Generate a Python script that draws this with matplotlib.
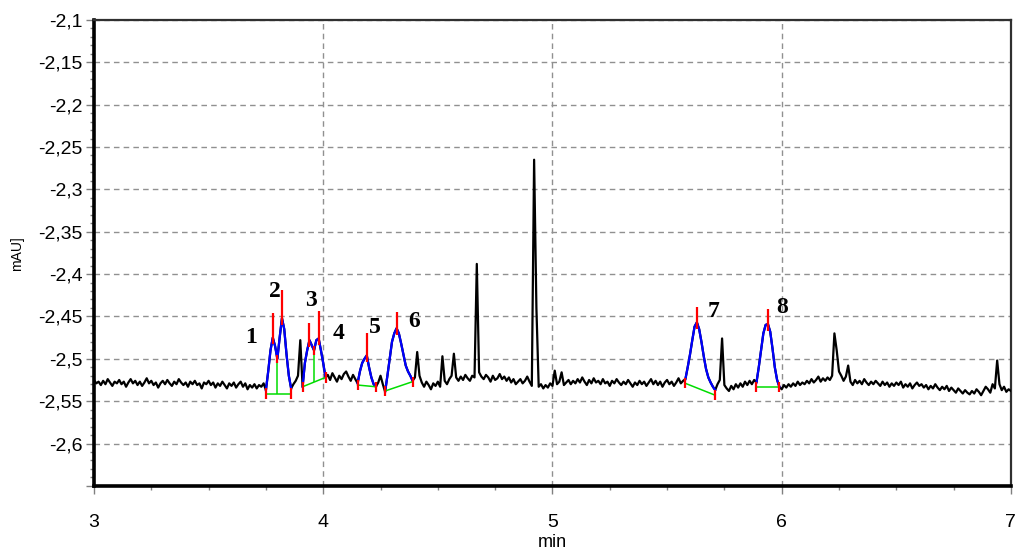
import matplotlib.pyplot as plt
import numpy as np
from matplotlib.ticker import FuncFormatter, MultipleLocator

# detector signal, one reading every 0.01 min from 3.00 to 7.00
t_start, t_step = 3.0, 0.01
signal = [
    -2.525, -2.529, -2.527, -2.531, -2.526, -2.530, -2.524, -2.528, -2.532, -2.527,
    -2.529, -2.525, -2.530, -2.527, -2.533, -2.528, -2.524, -2.529, -2.526, -2.531,
    -2.527, -2.532, -2.528, -2.523, -2.529, -2.526, -2.531, -2.528, -2.534, -2.529,
    -2.526, -2.530, -2.525, -2.529, -2.532, -2.527, -2.530, -2.524, -2.528, -2.531,
    -2.528, -2.533, -2.527, -2.530, -2.526, -2.531, -2.529, -2.535, -2.528, -2.530,
    -2.526, -2.531, -2.528, -2.534, -2.529, -2.532, -2.527, -2.531, -2.535, -2.529,
    -2.532, -2.528, -2.534, -2.530, -2.527, -2.533, -2.529, -2.536, -2.531, -2.534,
    -2.530, -2.535, -2.531, -2.533, -2.529, -2.537, -2.515, -2.490, -2.475, -2.485,
    -2.500, -2.475, -2.452, -2.465, -2.495, -2.520, -2.535, -2.530, -2.526, -2.520,
    -2.478, -2.533, -2.505, -2.490, -2.478, -2.484, -2.490, -2.478, -2.476, -2.490,
    -2.505, -2.522, -2.519, -2.525, -2.517, -2.522, -2.527, -2.520, -2.524, -2.518,
    -2.515, -2.521, -2.526, -2.519, -2.524, -2.529, -2.515, -2.505, -2.500, -2.496,
    -2.510, -2.522, -2.530, -2.533, -2.528, -2.520, -2.530, -2.539, -2.520, -2.500,
    -2.480, -2.470, -2.464, -2.470, -2.482, -2.495, -2.508, -2.515, -2.520, -2.526,
    -2.522, -2.492, -2.520, -2.528, -2.533, -2.527, -2.531, -2.536, -2.529, -2.532,
    -2.527, -2.533, -2.497, -2.526, -2.530, -2.524, -2.520, -2.494, -2.522, -2.526,
    -2.521, -2.525, -2.519, -2.523, -2.526, -2.520, -2.522, -2.388, -2.516, -2.521,
    -2.524, -2.519, -2.522, -2.527, -2.520, -2.525, -2.523, -2.518, -2.524, -2.521,
    -2.526, -2.522, -2.528, -2.524, -2.530, -2.527, -2.524, -2.529, -2.526, -2.521,
    -2.527, -2.532, -2.265, -2.440, -2.533, -2.530, -2.535, -2.531, -2.534, -2.529,
    -2.532, -2.514, -2.530, -2.527, -2.516, -2.531, -2.528, -2.525, -2.530, -2.526,
    -2.529, -2.524, -2.528, -2.522, -2.527, -2.531, -2.525, -2.529, -2.523, -2.528,
    -2.526, -2.530, -2.524, -2.529, -2.527, -2.532, -2.526, -2.529, -2.524, -2.528,
    -2.531, -2.527, -2.530, -2.525, -2.529, -2.533, -2.528, -2.531, -2.526, -2.530,
    -2.527, -2.532, -2.528, -2.524, -2.530, -2.526, -2.531, -2.527, -2.533, -2.528,
    -2.525, -2.530, -2.527, -2.532, -2.528, -2.523, -2.529, -2.526, -2.524, -2.510,
    -2.495, -2.478, -2.462, -2.457, -2.465, -2.480, -2.497, -2.512, -2.522, -2.528,
    -2.533, -2.537, -2.530, -2.525, -2.476, -2.531, -2.535, -2.538, -2.532, -2.536,
    -2.530, -2.534, -2.529, -2.533, -2.527, -2.531, -2.526, -2.530, -2.525, -2.528,
    -2.510, -2.490, -2.470, -2.460, -2.459, -2.468, -2.488, -2.510, -2.525, -2.533,
    -2.536, -2.531, -2.534, -2.530, -2.533, -2.529, -2.532, -2.527, -2.531, -2.528,
    -2.530, -2.526, -2.529, -2.524, -2.528, -2.525, -2.521, -2.527, -2.523, -2.526,
    -2.522, -2.525, -2.520, -2.470, -2.490, -2.515, -2.520, -2.526, -2.521, -2.508,
    -2.527, -2.531, -2.525, -2.529, -2.526, -2.530, -2.524, -2.528, -2.531, -2.527,
    -2.530, -2.526, -2.529, -2.532, -2.527, -2.531, -2.528, -2.533, -2.529, -2.532,
    -2.528, -2.531, -2.527, -2.534, -2.530, -2.533, -2.529, -2.535, -2.531, -2.528,
    -2.532, -2.530, -2.534, -2.531, -2.536, -2.532, -2.535, -2.530, -2.534, -2.537,
    -2.533, -2.536, -2.532, -2.538, -2.534, -2.537, -2.540, -2.535, -2.538, -2.541,
    -2.537, -2.540, -2.542, -2.538, -2.541, -2.536, -2.539, -2.543, -2.538, -2.533,
    -2.536, -2.540, -2.530, -2.535, -2.502, -2.530, -2.537, -2.533, -2.539, -2.536,
    -2.538,
]

# integrated regions (start/end time and baseline level)
seg_t0 = [3.75, 3.91, 4.15, 4.27, 5.58, 5.89]
seg_t1 = [3.86, 4.01, 4.23, 4.39, 5.71, 5.99]
seg_v0 = [-2.541, -2.533, -2.531, -2.538, -2.529, -2.533]
seg_v1 = [-2.541, -2.522, -2.533, -2.527, -2.543, -2.533]

# peak apexes and the top of their red markers
peak_names = ['1', '2', '3', '4', '5', '6', '7', '8']
apex_t = [3.78, 3.82, 3.94, 3.98, 4.19, 4.32, 5.63, 5.94]
apex_v = [-2.475, -2.452, -2.478, -2.476, -2.496, -2.464, -2.457, -2.459]
mark_top = [-2.446, -2.419, -2.458, -2.443, -2.470, -2.445, -2.439, -2.441]

# valley drop lines between fused peaks
drop_t = [3.80, 3.96]
drop_v = [-2.500, -2.490]

t = t_start + t_step * np.arange(len(signal))
y = np.array(signal)

plt.rcParams['font.family'] = ['Liberation Sans', 'DejaVu Sans']
fig = plt.figure(figsize=(10.16, 5.54), dpi=100)
ax = fig.add_axes([0.0925, 0.123, 0.9025, 0.841])

ax.plot(t, y, color='black', lw=1.6, zorder=3)

for a, b in zip(seg_t0, seg_t1):
    m = (t >= a - 1e-9) & (t <= b + 1e-9)
    ax.plot(t[m], y[m], color='#0000ff', lw=1.6, zorder=4)

for a, b, va, vb in zip(seg_t0, seg_t1, seg_v0, seg_v1):
    ax.plot([a, b], [va, vb], color='#00dd00', lw=1.1, zorder=5)
    ax.vlines([a, b], [va - 0.006, vb - 0.006], [va + 0.006, vb + 0.006],
              color='red', lw=1.6, zorder=6)

for dt, dv in zip(drop_t, drop_v):
    i = int(np.argmin([abs(dt - (a + b) / 2) for a, b in zip(seg_t0, seg_t1)]))
    base = np.interp(dt, [seg_t0[i], seg_t1[i]], [seg_v0[i], seg_v1[i]])
    ax.vlines(dt, base, dv - 0.005, color='#00dd00', lw=1.1, zorder=5)
    ax.vlines(dt, dv - 0.005, dv + 0.005, color='red', lw=1.6, zorder=6)

ax.vlines(apex_t, np.array(apex_v) - 0.008, mark_top, color='red', lw=1.6, zorder=6)

label_xy = [(3.686, -2.475), (3.790, -2.421), (3.948, -2.431), (4.066, -2.470),
            (4.227, -2.463), (4.397, -2.456), (5.703, -2.444), (6.000, -2.439)]
for name, (lx, ly) in zip(peak_names, label_xy):
    ax.text(lx, ly, name, ha='center', va='center', fontsize=17,
            fontweight='bold', family='Liberation Serif', zorder=7)


def ylab(v, _):
    if v < -2.63:
        return ''
    return f'{v:.2f}'.rstrip('0').replace('.', ',')


ax.set_xlim(3, 7)
ax.set_ylim(-2.65, -2.1)
ax.xaxis.set_major_locator(MultipleLocator(1))
ax.xaxis.set_minor_locator(MultipleLocator(0.25))
ax.yaxis.set_major_locator(MultipleLocator(0.05))
ax.yaxis.set_minor_locator(MultipleLocator(0.01))
ax.yaxis.set_major_formatter(FuncFormatter(ylab))
ax.xaxis.set_major_formatter(FuncFormatter(lambda v, _: f'{v:g}'))
ax.tick_params(which='major', length=6, width=1, color='#808080', labelsize=14, pad=2)
ax.tick_params(which='minor', length=3, width=1, color='#808080')
ax.tick_params(axis='x', pad=14)

ax.grid(True, which='major', color='#909090', linestyle=(0, (4, 3)), lw=1)
for side in ['left', 'bottom']:
    ax.spines[side].set_linewidth(2.6)
    ax.spines[side].set_color('black')
for side in ['top', 'right']:
    ax.spines[side].set_linewidth(1.6)
    ax.spines[side].set_color('#303030')

fig.text(0.544, 0.02, 'min', ha='center', va='center', fontsize=13)
fig.text(0.017, 0.543, 'mAU]', ha='center', va='center', rotation=90, fontsize=10)

fig.savefig('out.png', dpi=100)
